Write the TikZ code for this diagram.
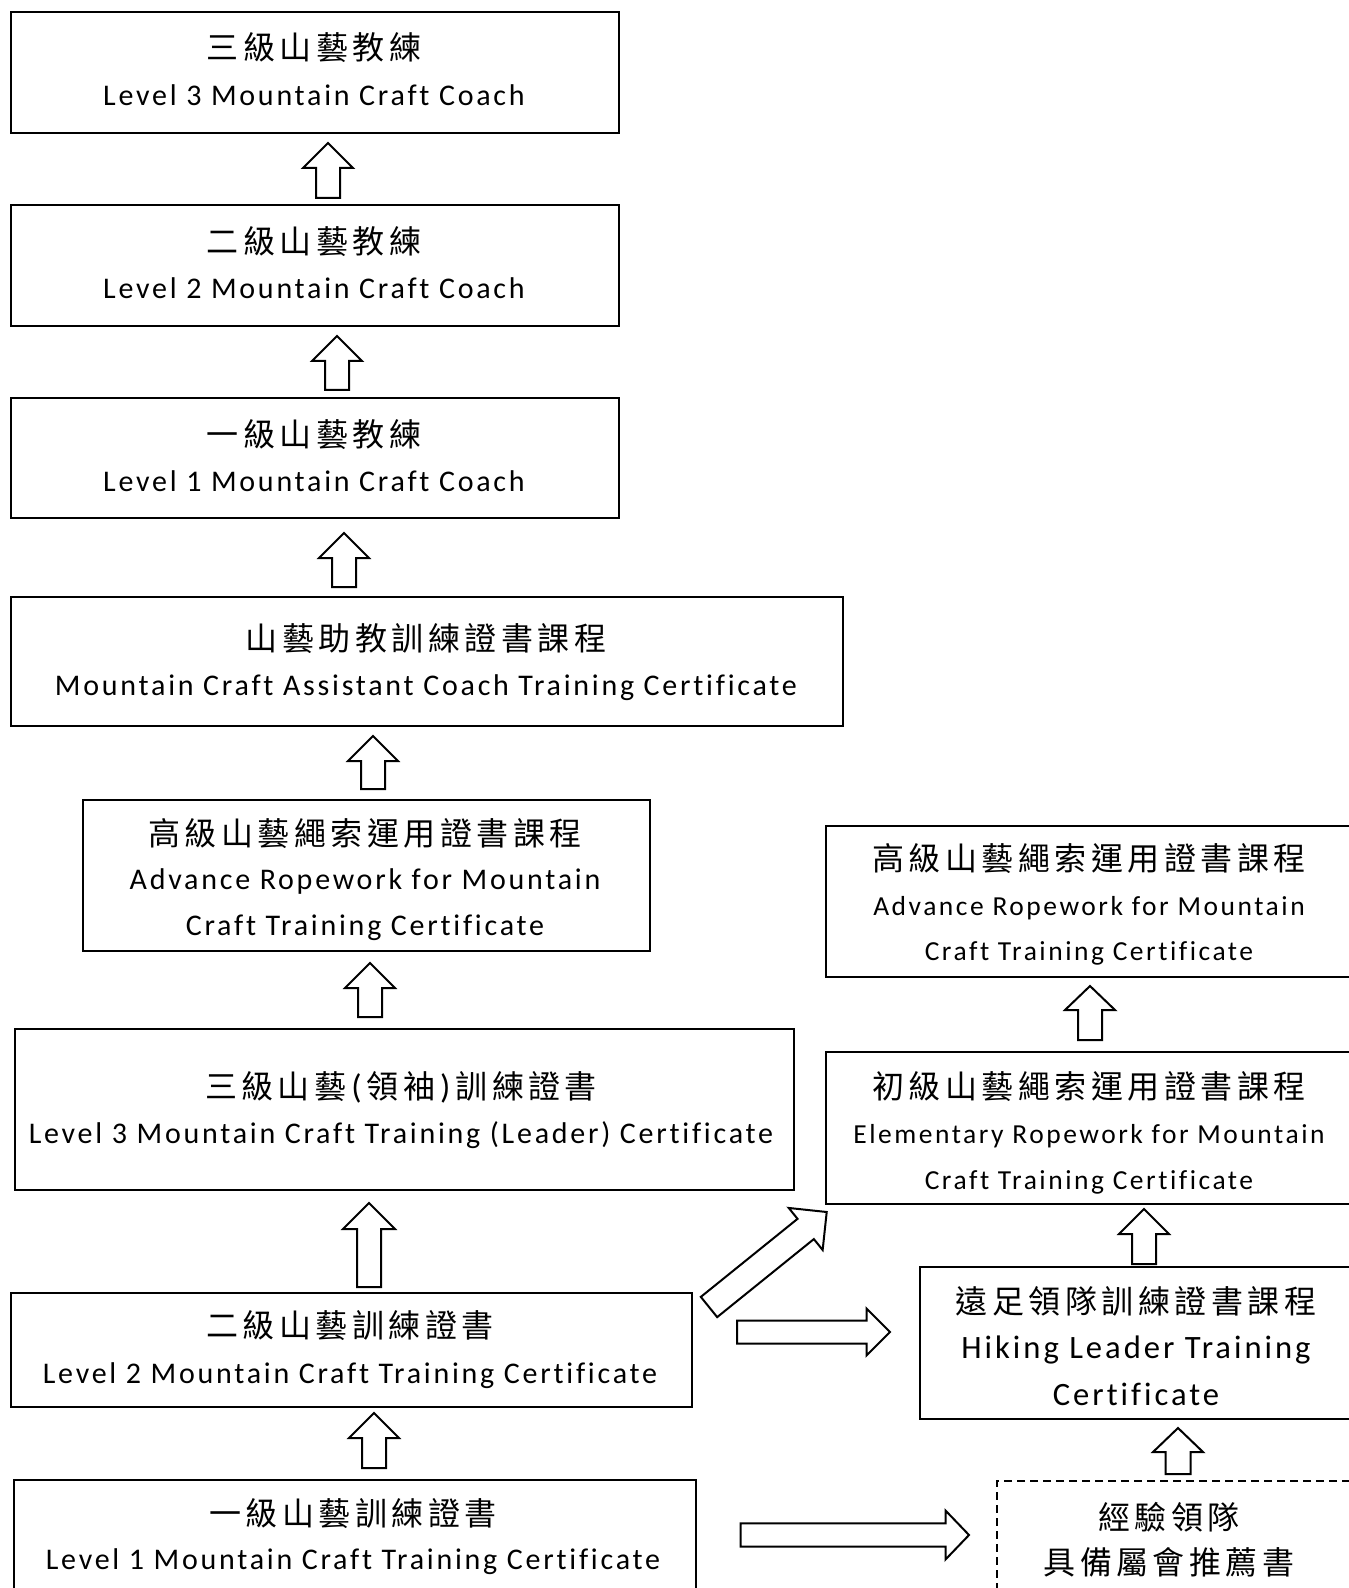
\documentclass[tikz,border=0pt]{standalone}
\usepackage{fontspec}
\setmainfont{Carlito}
\newfontfamily\cjk{Noto Sans CJK TC}[LetterSpace=14]
\newfontfamily\eng{Carlito}[LetterSpace=9.2, Ligatures=NoCommon]
\usetikzlibrary{calc}
\tikzset{
  box/.style={draw, line width=1pt, rectangle, inner sep=0pt, outer sep=0pt},
  dbox/.style={box, dash pattern=on 4pt off 2.5pt, line width=0.8pt},
  zh/.style={anchor=base, inner sep=0pt, font=\cjk\fontsize{16pt}{19pt}\selectfont},
  en/.style={anchor=base, inner sep=0pt, font=\eng\fontsize{15pt}{18pt}\selectfont},
  ens/.style={anchor=base, inner sep=0pt, font=\eng\fontsize{13.75pt}{17pt}\selectfont},
  enl/.style={anchor=base, inner sep=0pt, font=\eng\fontsize{16.3pt}{19pt}\selectfont},
  blk/.style={draw, line width=1pt, fill=white, line join=miter},
}
\newcommand\blockarr[5]{%
  \coordinate (hb) at ($(#2)!#5!(#1)$);
  \draw[blk] ($(#1)!#3!90:(#2)$) -- ($(hb)!#3!90:(#2)$) -- ($(hb)!#4!90:(#2)$)
    -- (#2) -- ($(hb)!#4!-90:(#2)$) -- ($(hb)!#3!-90:(#2)$) -- ($(#1)!#3!-90:(#2)$) -- cycle;
}
\newcommand\zhparen[1]{{\eng\fontsize{17pt}{19pt}\selectfont\kern2.5pt#1\kern2.5pt}}
\begin{document}
\begin{tikzpicture}[x=0.5pt, y=-0.5pt]
\useasboundingbox (0,0) rectangle (1348,1588);
\fill[white] (0,0) rectangle (1348,1588);

% left column boxes
\node[box, minimum width=304pt, minimum height=60.5pt] (b1) at (315,72.5) {};
\node[box, minimum width=304pt, minimum height=60.5pt] (b2) at (315,265.5) {};
\node[box, minimum width=304pt, minimum height=60pt] (b3) at (315,458) {};
\node[box, minimum width=416pt, minimum height=64.5pt] (b4) at (427,661.5) {};
\node[box, minimum width=283.5pt, minimum height=75.5pt] (b5) at (366.5,875.5) {};
\node[box, minimum width=389.5pt, minimum height=80.5pt] (b6) at (404.5,1109.5) {};
\node[box, minimum width=340.5pt, minimum height=57pt] (b7) at (351.5,1350) {};
\node[box, minimum width=341pt, minimum height=65pt] (b8) at (355,1545) {};
% right column boxes
\node[box, minimum width=265pt, minimum height=75.5pt] (rA) at (1091,901.5) {};
\node[box, minimum width=265pt, minimum height=76pt] (rB) at (1091,1128) {};
\node[box, minimum width=218pt, minimum height=76pt] (rC) at (1138,1343) {};
\node[dbox, minimum width=179.5pt, minimum height=64.5pt] (rD) at (1176.5,1545.5) {};

% texts
\node[zh] (t1a) at (314,60) {三級山藝教練};
\node[en] (t1b) at (314,105.6) {Level 3 Mountain Craft Coach};
\node[zh] (t2a) at (314,253.5) {二級山藝教練};
\node[en] (t2b) at (314,298.5) {Level 2 Mountain Craft Coach};
\node[zh] (t3a) at (314,446.5) {一級山藝教練};
\node[en] (t3b) at (314,491.5) {Level 1 Mountain Craft Coach};
\node[zh] (t4a) at (426,650.5) {山藝助教訓練證書課程};
\node[en] (t4b) at (426,695.5) {Mountain Craft Assistant Coach Training Certificate};
\node[zh] (t5a) at (365,845.5) {高級山藝繩索運用證書課程};
\node[en] (t5b) at (365,889.5) {Advance Ropework for Mountain};
\node[en] (t5c) at (365,935.5) {Craft Training Certificate};
\node[zh] (t6a) at (401,1098.5) {三級山藝\zhparen{(}領袖\zhparen{)}訓練證書};
\node[en] (t6b) at (401,1143.5) {Level 3 Mountain Craft Training (Leader) Certificate};
\node[zh] (t7a) at (350,1337.5) {二級山藝訓練證書};
\node[en] (t7b) at (350,1383.5) {Level 2 Mountain Craft Training Certificate};
\node[zh] (t8a) at (353,1525.5) {一級山藝訓練證書};
\node[en] (t8b) at (353,1569.5) {Level 1 Mountain Craft Training Certificate};

\node[zh] (tAa) at (1089,870.5) {高級山藝繩索運用證書課程};
\node[ens] (tAb) at (1089,915) {Advance Ropework for Mountain};
\node[ens] (tAc) at (1089,960) {Craft Training Certificate};
\node[zh] (tBa) at (1089,1098.5) {初級山藝繩索運用證書課程};
\node[ens] (tBb) at (1089,1143) {Elementary Ropework for Mountain};
\node[ens] (tBc) at (1089,1189) {Craft Training Certificate};
\node[zh] (tCa) at (1136,1313.5) {遠足領隊訓練證書課程};
\node[enl] (tCb) at (1136,1358.5) {Hiking Leader Training};
\node[enl] (tCc) at (1136,1405.5) {Certificate};
\node[zh] (tDa) at (1169,1529.5) {經驗領隊};
\node[zh] (tDb) at (1169,1574.5) {具備屬會推薦書};

% arrow end points
\coordinate (a1s) at (328,198);   \coordinate (a1e) at (328,143);
\coordinate (a2s) at (337,390);   \coordinate (a2e) at (337,336);
\coordinate (a3s) at (344,587);   \coordinate (a3e) at (344,533);
\coordinate (a4s) at (373,789);   \coordinate (a4e) at (373,736);
\coordinate (a5s) at (370,1017);  \coordinate (a5e) at (370,963);
\coordinate (a6s) at (369,1287);  \coordinate (a6e) at (369,1203);
\coordinate (a7s) at (374,1468);  \coordinate (a7e) at (374,1413);
\coordinate (dgs) at (709,1307);  \coordinate (dge) at (826.7,1212);
\coordinate (h1s) at (737,1332);  \coordinate (h1e) at (890,1332);
\coordinate (h2s) at (740.5,1535);\coordinate (h2e) at (969,1535);
\coordinate (ras) at (1090,1040); \coordinate (rae) at (1090,986);
\coordinate (rbs) at (1144,1264); \coordinate (rbe) at (1144,1209);
\coordinate (rcs) at (1178,1474); \coordinate (rce) at (1178,1428);

\blockarr{a1s}{a1e}{6pt}{12.5pt}{12.5pt}
\blockarr{a2s}{a2e}{6pt}{12.5pt}{12.5pt}
\blockarr{a3s}{a3e}{6pt}{12.5pt}{12.5pt}
\blockarr{a4s}{a4e}{6pt}{12.5pt}{12.5pt}
\blockarr{a5s}{a5e}{6pt}{12.5pt}{12.5pt}
\blockarr{a6s}{a6e}{6pt}{13pt}{13pt}
\blockarr{a7s}{a7e}{6pt}{12.5pt}{12.5pt}
\blockarr{dgs}{dge}{6.5pt}{13.5pt}{13.5pt}
\blockarr{h1s}{h1e}{5.75pt}{11.75pt}{11.75pt}
\blockarr{h2s}{h2e}{5.85pt}{12.25pt}{11.75pt}
\blockarr{ras}{rae}{6pt}{12.5pt}{12pt}
\blockarr{rbs}{rbe}{6pt}{12.5pt}{12.5pt}
\blockarr{rcs}{rce}{6.25pt}{12.5pt}{12pt}
\end{tikzpicture}
\end{document}
